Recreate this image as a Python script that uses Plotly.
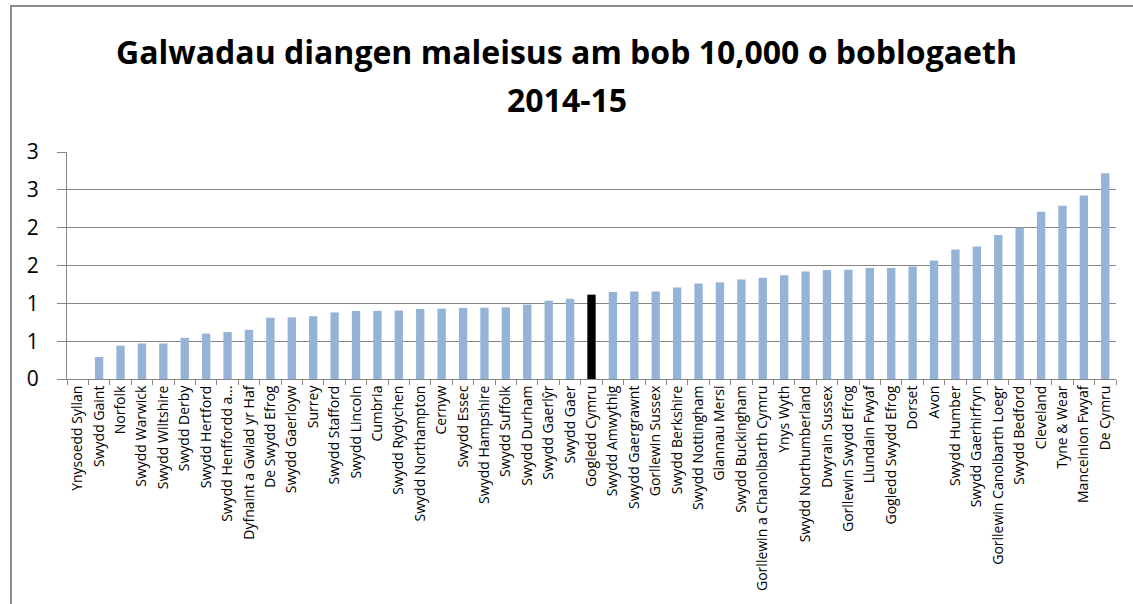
import plotly.graph_objects as go

categories = [
    "Ynysoedd Syllan", "Swydd Gaint", "Norfolk", "Swydd Warwick", "Swydd Wiltshire",
    "Swydd Derby", "Swydd Hertford", "Swydd Henffordd a...", "Dyfnaint a Gwlad yr Haf",
    "De Swydd Efrog", "Swydd Gaerloyw", "Surrey", "Swydd Stafford", "Swydd Lincoln",
    "Cumbria", "Swydd Rydychen", "Swydd Northampton", "Cernyw", "Swydd Essec",
    "Swydd Hampshire", "Swydd Suffolk", "Swydd Durham", "Swydd Gaerlŷr", "Swydd Gaer",
    "Gogledd Cymru", "Swydd Amwythig", "Swydd Gaergrawnt", "Gorllewin Sussex",
    "Swydd Berkshire", "Swydd Nottingham", "Glannau Mersi", "Swydd Buckingham",
    "Gorllewin a Chanolbarth Cymru", "Ynys Wyth", "Swydd Northumberland",
    "Dwyrain Sussex", "Gorllewin Swydd Efrog", "Llundain Fwyaf", "Gogledd Swydd Efrog",
    "Dorset", "Avon", "Swydd Humber", "Swydd Gaerhirfryn", "Gorllewin Canolbarth Loegr",
    "Swydd Bedford", "Cleveland", "Tyne & Wear", "Manceinion Fwyaf", "De Cymru",
]

values = [
    0.0, 0.29, 0.44, 0.47, 0.47, 0.545, 0.60, 0.62, 0.65, 0.81,
    0.815, 0.83, 0.88, 0.90, 0.90, 0.905, 0.925, 0.93, 0.94, 0.943,
    0.947, 0.983, 1.035, 1.06, 1.115, 1.15, 1.158, 1.158, 1.21, 1.263,
    1.28, 1.316, 1.338, 1.37, 1.42, 1.44, 1.443, 1.466, 1.466, 1.487,
    1.566, 1.71, 1.75, 1.904, 2.0, 2.21, 2.29, 2.426, 2.72,
]

highlight = "Gogledd Cymru"

y_tickvals = [0, 0.5, 1.0, 1.5, 2.0, 2.5, 3.0]
y_ticktext = ["0", "1", "1", "2", "2", "3", "3"]

title_line1 = "Galwadau diangen maleisus am bob 10,000 o boblogaeth"
title_line2 = "2014-15"

BLUE = "#95B3D7"
GRID = "#868686"
colors = ["#000000" if c == highlight else BLUE for c in categories]

W, H = 1133, 604
L, R, T, B = 67, 1133 - 1116, 152, 604 - 379
PW, PH = W - L - R, H - T - B

def px_x(p):
    return (p - L) / PW

def px_y(p):
    return (H - B - p) / PH

FONT = "Open Sans, sans-serif"
TITLE_SIZE = 32

fig = go.Figure(
    go.Bar(
        x=categories,
        y=values,
        marker=dict(color=colors, line=dict(width=0)),
        hoverinfo="x+y",
    )
)

fig.update_layout(
    width=W,
    height=H,
    margin=dict(l=L, r=R, t=T, b=B),
    paper_bgcolor="white",
    plot_bgcolor="white",
    bargap=0.61,
    showlegend=False,
    font=dict(family=FONT, color="black"),
    title=dict(
        text="<b>" + title_line1 + "</b>",
        font=dict(family=FONT, size=TITLE_SIZE, color="black"),
        x=0.5,
        xanchor="center",
        xref="container",
        yref="container",
        y=1 - 53 / H,
        yanchor="middle",
    ),
    annotations=[
        dict(
            text="<b>" + title_line2 + "</b>",
            xref="paper",
            yref="paper",
            x=px_x(567),
            y=px_y(99),
            xanchor="center",
            yanchor="middle",
            showarrow=False,
            font=dict(family=FONT, size=TITLE_SIZE, color="black"),
        )
    ],
    shapes=[
        dict(
            type="rect",
            xref="paper",
            yref="paper",
            x0=px_x(11),
            x1=px_x(1140),
            y0=px_y(612),
            y1=px_y(6),
            line=dict(color="#8C8C8C", width=2),
            fillcolor="rgba(0,0,0,0)",
            layer="below",
        )
    ],
)

fig.update_xaxes(
    type="category",
    tickangle=-90,
    tickfont=dict(family=FONT, size=14, color="black"),
    showline=True,
    linecolor=GRID,
    linewidth=1,
    ticks="outside",
    tickson="boundaries",
    ticklen=5,
    tickcolor=GRID,
    showgrid=False,
    mirror=False,
)

fig.update_yaxes(
    range=[0, 3],
    tickvals=y_tickvals,
    ticktext=y_ticktext,
    tickfont=dict(family=FONT, size=21, color="black"),
    showline=True,
    linecolor=GRID,
    linewidth=1,
    ticks="outside",
    ticklen=9,
    tickcolor=GRID,
    showgrid=True,
    gridcolor=GRID,
    gridwidth=1,
    zeroline=False,
    ticklabelstandoff=14,
)

fig.write_html(
    "out.html",
    config={"displayModeBar": False},
    post_script="document.body.style.margin='0';document.body.style.overflow='hidden';",
)
